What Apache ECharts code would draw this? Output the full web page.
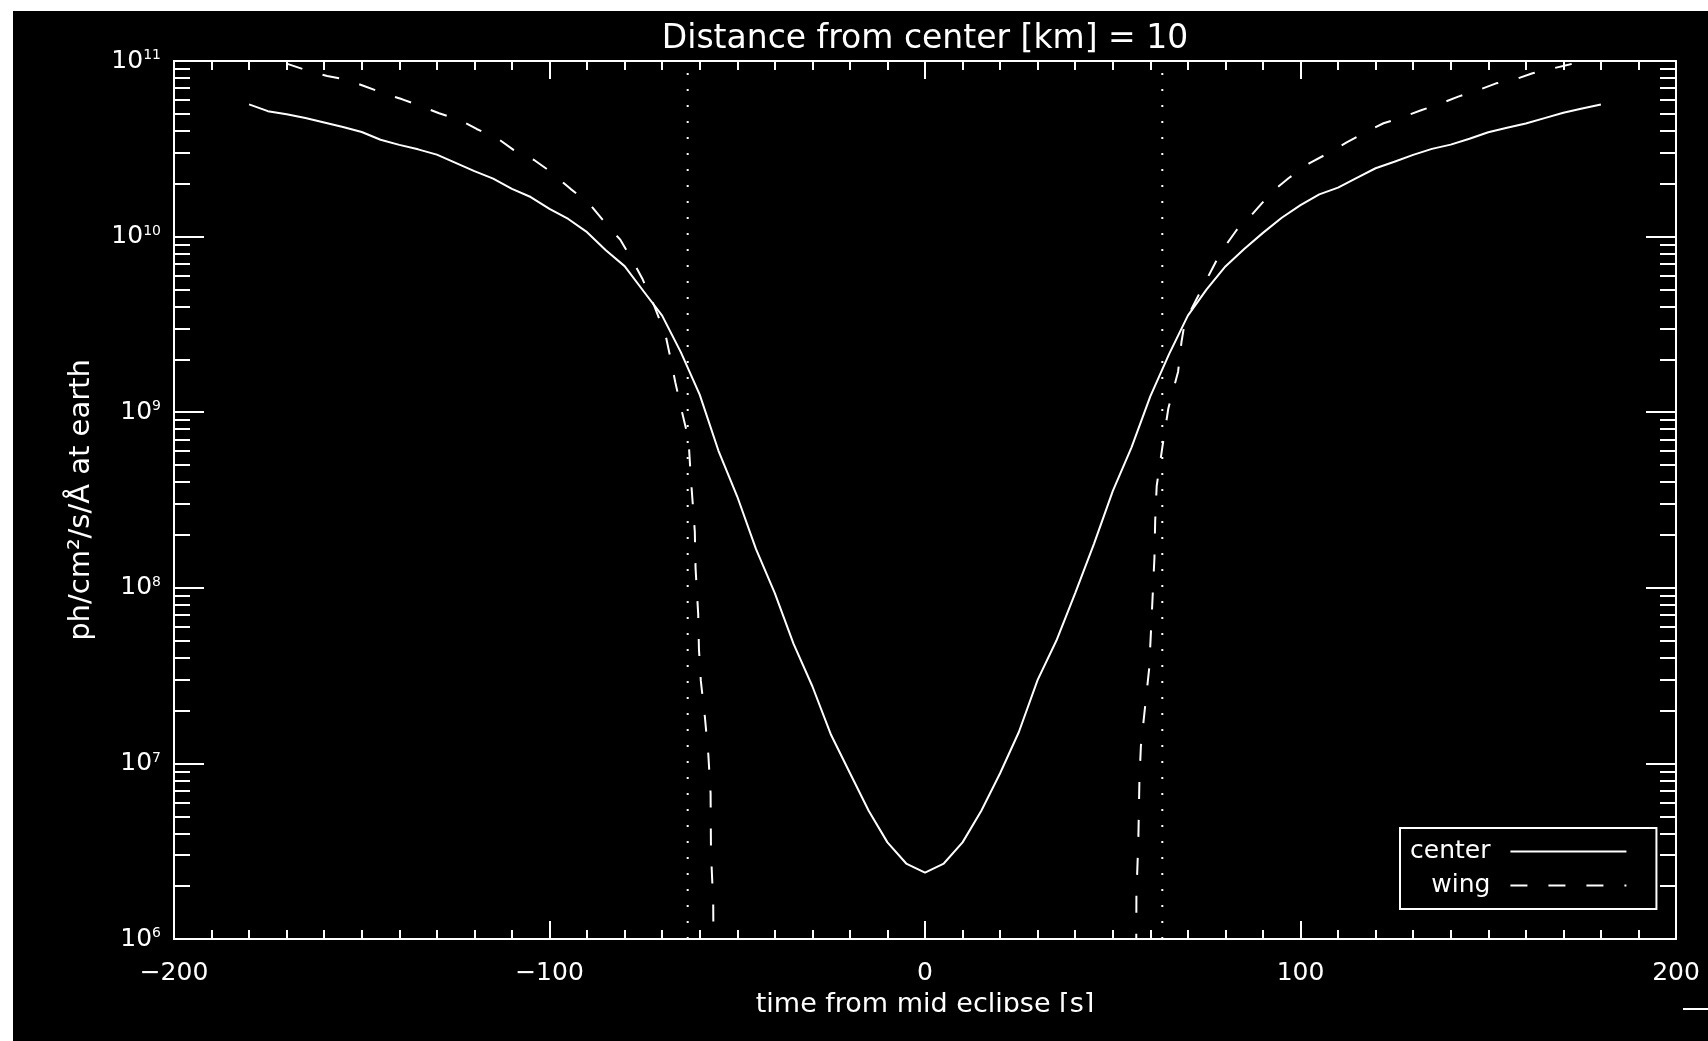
<!DOCTYPE html>
<html><head><meta charset="utf-8">
<script src="https://cdn.jsdelivr.net/npm/echarts@6/dist/echarts.min.js"></script>
<style>html,body{margin:0;padding:0;background:#fff;overflow:hidden}#c{width:1708px;height:1041px}</style>
</head><body><div id="c"></div><script>
// ---- data ----
const titleText = 'Distance from center [km] = 10';
const xName = 'time from mid eclipse [s]';
const yName = 'ph/cm\u00b2/s/\u00c5 at earth';
const xMin = -200, xMax = 200, xStep = 100;
const yMin = 1e6, yMax = 1e11;
const legendNames = ['center', 'wing'];

const centerX = [-180,-175,-170,-165,-160,-155,-150,-145,-140,-135,-130,-125,-120,-115,-110,-105,-100,-95,-90,-85,-80,-75,-70,-65,-60,-55,-50,-45,-40,-35,-30,-25,-20,-15,-10,-5,0,5,10,15,20,25,30,35,40,45,50,55,60,65,70,75,80,85,90,95,100,105,110,115,120,125,130,135,140,145,150,155,160,165,170,175,180];
const centerY = [5.66e10,5.18e10,4.97e10,4.73e10,4.47e10,4.21e10,3.94e10,3.56e10,3.33e10,3.14e10,2.93e10,2.63e10,2.36e10,2.14e10,1.87e10,1.68e10,1.44e10,1.26e10,1.06e10,8.37e9,6.79e9,4.90e9,3.55e9,2.19e9,1.26e9,6.03e8,3.31e8,1.66e8,9.33e7,4.79e7,2.75e7,1.45e7,8.81e6,5.37e6,3.55e6,2.69e6,2.39e6,2.69e6,3.55e6,5.37e6,8.79e6,1.51e7,2.99e7,5.01e7,9.33e7,1.78e8,3.55e8,6.31e8,1.23e9,2.14e9,3.55e9,5.01e9,6.76e9,8.51e9,1.05e10,1.28e10,1.51e10,1.74e10,1.90e10,2.16e10,2.45e10,2.67e10,2.92e10,3.16e10,3.34e10,3.61e10,3.93e10,4.17e10,4.41e10,4.73e10,5.07e10,5.37e10,5.66e10];

const wingLeftX = [-180,-175,-170,-163.6,-159.2,-153.8,-149.4,-143.6,-139.2,-133.9,-129.4,-123.8,-119.4,-113.9,-109.5,-104.1,-99.7,-94.4,-89.5,-84.8,-81.1,-77.7,-75.3,-72.0,-69.1,-68.0,-66.5,-64.8,-63.0,-62.6,-62.1,-61.3,-61.1,-60.4,-60.2,-59.7,-58.6,-57.7,-57.1,-57.0,-56.4,-56.2];
const wingLeftY = [1.07e11,1.0e11,9.66e10,8.69e10,8.22e10,7.80e10,7.21e10,6.49e10,6.05e10,5.50e10,5.04e10,4.61e10,4.10e10,3.63e10,3.11e10,2.73e10,2.34e10,1.87e10,1.55e10,1.17e10,9.57e9,7.19e9,5.78e9,3.98e9,2.75e9,2.14e9,1.48e9,1.02e9,7.08e8,5.13e8,3.55e8,2.09e8,1.29e8,7.08e7,4.47e7,2.95e7,1.82e7,1.12e7,6.76e6,3.16e6,1.58e6,3.16e5];
const wingRightX = [56.2,56.3,56.8,57.1,57.5,58.6,59.7,60.4,61.1,61.3,61.7,63.2,64.8,67.4,68.3,69.2,73.2,76.8,79,83,87.4,92.3,96.8,102.3,106.8,112.3,116.7,122.1,126.7,132.3,136.7,142,146.7,152.1,156.7,161.8,166.4,171.6,175,180];
const wingRightY = [3.16e5,1.78e6,3.55e6,7.94e6,1.26e7,2.09e7,3.47e7,7.08e7,1.48e8,2.40e8,3.80e8,6.31e8,1.05e9,1.70e9,2.51e9,3.27e9,4.79e9,6.76e9,8.28e9,1.09e10,1.36e10,1.79e10,2.15e10,2.61e10,2.94e10,3.44e10,3.87e10,4.42e10,4.75e10,5.26e10,5.66e10,6.27e10,6.75e10,7.46e10,7.80e10,8.51e10,8.99e10,9.55e10,1.0e11,1.07e11];

const contactX = [-63.2, 63.2];

// ---- chart ----
const FONT = "'DejaVu Sans', sans-serif";
const WHITE = '#ffffff';
const zip = (xs, ys) => xs.map((x, i) => [x, ys[i]]);
const wingData = zip(wingLeftX, wingLeftY).concat([null], zip(wingRightX, wingRightY));

// minor tick positions on a log10 helper axis (2..9 x 10^n)
const minorPos = [];
for (let n = Math.log10(yMin); n < Math.log10(yMax); n++) {
  for (let k = 2; k <= 9; k++) minorPos.push(n + Math.log10(k));
}

const chart = echarts.init(document.getElementById('c'), null, {renderer: 'canvas'});

const tickStyle = {color: WHITE, width: 2};
function xAxisDef(pos) {
  return {
    type: 'value', position: pos, min: xMin, max: xMax, interval: xStep,
    axisLine: {show: true, onZero: false, lineStyle: {color: WHITE, width: 2}},
    axisTick: {show: true, inside: true, length: 18, lineStyle: tickStyle},
    minorTick: {show: true, splitNumber: 10, length: 9, lineStyle: tickStyle},
    splitLine: {show: false}, minorSplitLine: {show: false},
    axisLabel: pos === 'bottom' ? {
      show: true, color: WHITE, fontFamily: FONT, fontSize: 25, margin: 22,
      formatter: v => (v < 0 ? '\u2212' + Math.abs(v) : String(v))
    } : {show: false},
    name: pos === 'bottom' ? xName : '',
    nameLocation: 'middle', nameGap: 52,
    nameTextStyle: {color: WHITE, fontFamily: FONT, fontSize: 27}
  };
}
function yLogDef(pos) {
  return {
    type: 'log', logBase: 10, position: pos, min: yMin, max: yMax,
    axisLine: {show: true, onZero: false, lineStyle: {color: WHITE, width: 2}},
    axisTick: {show: true, inside: true, length: 30, lineStyle: tickStyle},
    splitLine: {show: false},
    axisLabel: pos === 'left' ? {
      show: true, margin: 13, color: WHITE, fontFamily: FONT,
      formatter: v => '{b|10}{s|' + Math.round(Math.log10(v)) + '}',
      rich: {
        b: {fontSize: 25, fontFamily: FONT, color: WHITE, lineHeight: 25},
        s: {fontSize: 14, fontFamily: FONT, color: WHITE, verticalAlign: 'top', lineHeight: 14}
      }
    } : {show: false},
    name: pos === 'left' ? yName : '',
    nameLocation: 'middle', nameGap: 78, nameRotate: 90,
    nameTextStyle: {color: WHITE, fontFamily: FONT, fontSize: 29}
  };
}
function yMinorDef(pos) {
  return {
    type: 'value', position: pos, min: Math.log10(yMin), max: Math.log10(yMax),
    axisLine: {show: false, onZero: false},
    axisTick: {show: true, inside: true, length: 16, customValues: minorPos, lineStyle: tickStyle},
    axisLabel: {show: false}, splitLine: {show: false}
  };
}

const option = {
  backgroundColor: '#ffffff',
  animation: false,
  textStyle: {fontFamily: FONT, color: WHITE},
  title: {
    text: titleText, left: 925, top: 23, textAlign: 'center', padding: 0,
    textStyle: {color: WHITE, fontFamily: FONT, fontSize: 33, fontWeight: 'normal'}
  },
  graphic: [
    {type: 'rect', z: -100, silent: true, shape: {x: 13, y: 11, width: 1695, height: 1030}, style: {fill: '#000000'}},
    {type: 'rect', z: 100, silent: true, shape: {x: 600, y: 1012, width: 650, height: 29}, style: {fill: '#000000'}},
    {type: 'line', z: 100, silent: true, shape: {x1: 1683, y1: 1009, x2: 1708, y2: 1009}, style: {stroke: WHITE, lineWidth: 2}}
  ],
  grid: {left: 174, right: 32, top: 61, bottom: 102, containLabel: false, outerBoundsMode: 'none'},
  legend: {
    data: legendNames, orient: 'vertical', align: 'right', left: 1400, top: 828,
    padding: [11, 29, 11, 10], borderColor: WHITE, borderWidth: 2, backgroundColor: '#000000',
    itemWidth: 116, itemHeight: 14, itemGap: 9, selectedMode: false,
    itemStyle: {opacity: 0},
    textStyle: {color: WHITE, fontFamily: FONT, fontSize: 25, lineHeight: 24, padding: [0, 15, 0, 0]}
  },
  xAxis: [xAxisDef('bottom'), xAxisDef('top')],
  yAxis: [yLogDef('left'), yLogDef('right'), yMinorDef('left'), yMinorDef('right')],
  series: [
    {name: 'center', type: 'line', xAxisIndex: 0, yAxisIndex: 0, data: zip(centerX, centerY),
     symbol: 'none', clip: true, lineStyle: {color: WHITE, width: 2, type: 'solid'}, itemStyle: {color: WHITE}},
    {name: 'wing', type: 'line', xAxisIndex: 0, yAxisIndex: 0, data: wingData, connectNulls: false,
     symbol: 'none', clip: true, lineStyle: {color: WHITE, width: 2, type: [17, 21]}, itemStyle: {color: WHITE}},
    {name: 'contact-', type: 'line', xAxisIndex: 0, yAxisIndex: 0, data: [[contactX[0], yMin], [contactX[0], yMax]],
     symbol: 'none', clip: true, silent: true, lineStyle: {color: WHITE, width: 2, type: [2, 14]}},
    {name: 'contact+', type: 'line', xAxisIndex: 0, yAxisIndex: 0, data: [[contactX[1], yMin], [contactX[1], yMax]],
     symbol: 'none', clip: true, silent: true, lineStyle: {color: WHITE, width: 2, type: [2, 14]}}
  ]
};
chart.setOption(option);
</script></body></html>
